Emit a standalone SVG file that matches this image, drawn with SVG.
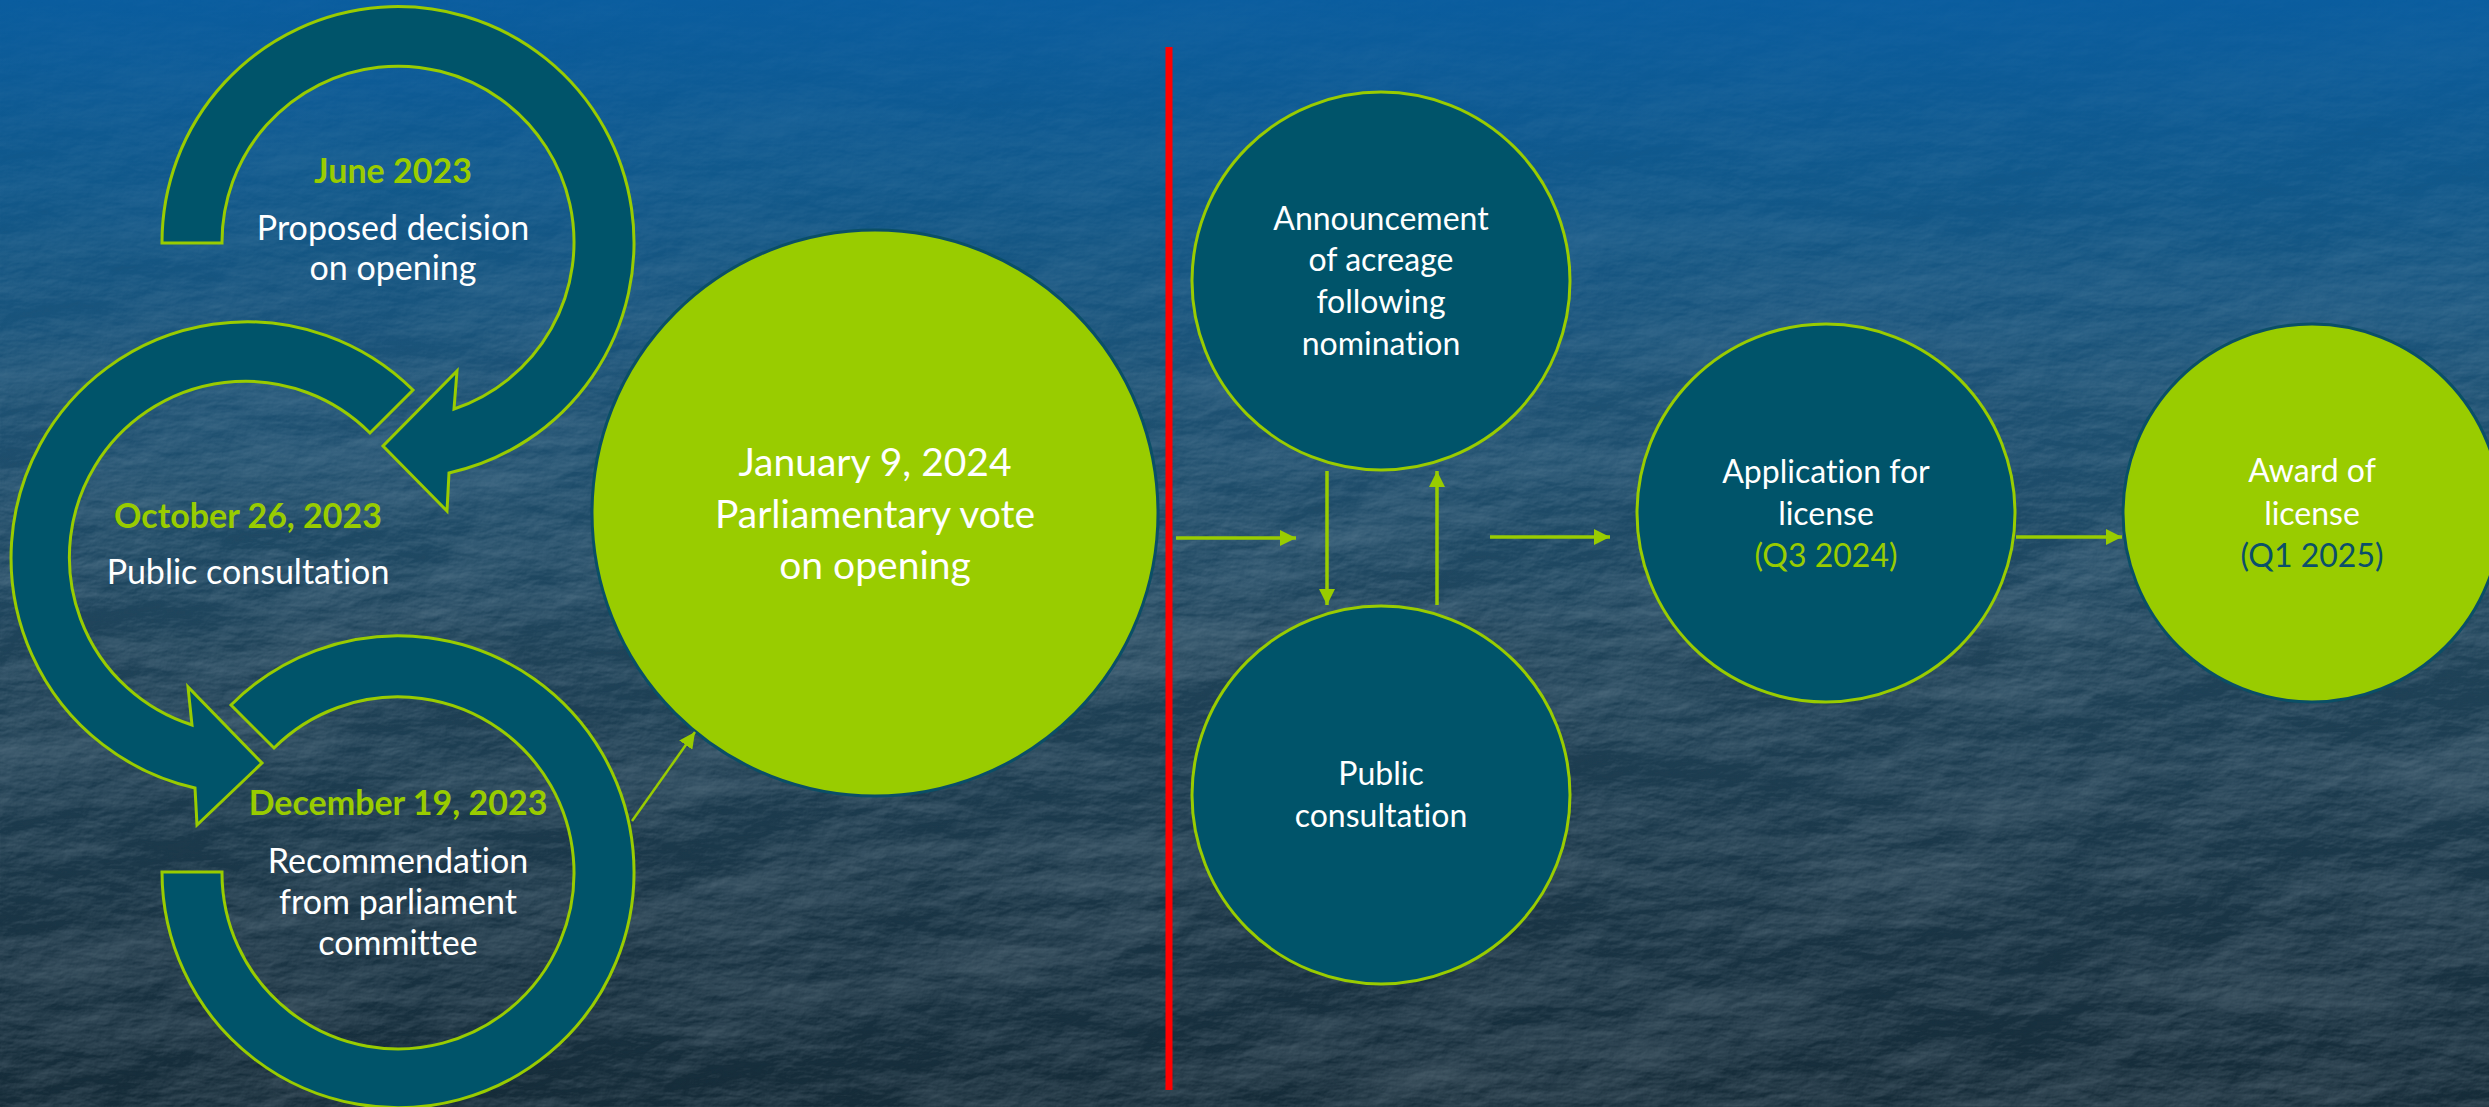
<svg xmlns="http://www.w3.org/2000/svg" width="2489" height="1107" viewBox="0 0 2489 1107">
  <defs>
    <linearGradient id="sky" x1="0" y1="0" x2="0" y2="1">
      <stop offset="0" stop-color="#0a5d9f"/>
      <stop offset="0.16" stop-color="#11598c"/>
      <stop offset="0.36" stop-color="#1e5274"/>
      <stop offset="0.58" stop-color="#20445a"/>
      <stop offset="0.85" stop-color="#1a3444"/>
      <stop offset="1" stop-color="#162c39"/>
    </linearGradient>
    <linearGradient id="fadeGrad" x1="0" y1="0" x2="0" y2="1">
      <stop offset="0" stop-color="#fff" stop-opacity="0.1"/>
      <stop offset="0.25" stop-color="#fff" stop-opacity="0.55"/>
      <stop offset="0.5" stop-color="#fff" stop-opacity="1"/>
      <stop offset="1" stop-color="#fff" stop-opacity="1"/>
    </linearGradient>
    <mask id="fadeTop" maskUnits="userSpaceOnUse" x="0" y="0" width="2489" height="1107">
      <rect width="2489" height="1107" fill="url(#fadeGrad)"/>
    </mask>
    <!-- shaded relief for the terrain backdrop -->
    <filter id="relief" filterUnits="userSpaceOnUse" x="0" y="0" width="2489" height="1107">
      <feTurbulence type="fractalNoise" baseFrequency="0.0028 0.0065" numOctaves="7" seed="9" result="n"/>
      <feDiffuseLighting in="n" surfaceScale="11" diffuseConstant="1" lighting-color="#ffffff" result="lit">
        <feDistantLight azimuth="235" elevation="36"/>
      </feDiffuseLighting>
      <feColorMatrix in="lit" type="matrix" result="hi" values="0 0 0 0 0.70  0 0 0 0 0.80  0 0 0 0 0.90  1.3 0 0 0 -0.62"/>
      <feColorMatrix in="lit" type="matrix" result="lo" values="0 0 0 0 0.02  0 0 0 0 0.05  0 0 0 0 0.08  -1.4 0 0 0 0.66"/>
      <feMerge>
        <feMergeNode in="lo"/>
        <feMergeNode in="hi"/>
      </feMerge>
    </filter>
    <marker id="ah" markerUnits="userSpaceOnUse" markerWidth="16" markerHeight="16" refX="16" refY="8" orient="auto" viewBox="0 0 16 16">
      <path d="M0,0 L16,8 L0,16 Z" fill="#99cc00"/>
    </marker>
    <style>
      .band { fill: #00546a; stroke: #99cc00; stroke-width: 3; stroke-linejoin: miter; }
      .node-teal { fill: #00546a; stroke: #99cc00; stroke-width: 3; }
      .node-green { fill: #99cc00; stroke: #0a4f66; stroke-width: 3; }
      .conn { stroke: #99cc00; stroke-width: 3.5; fill: none; marker-end: url(#ah); }
      text { font-family: Lato, "Open Sans", "Liberation Sans", sans-serif; text-anchor: middle;
             font-variant-ligatures: none; font-feature-settings: "liga" 0, "clig" 0; }
      .date { fill: #99cc00; font-weight: bold; font-size: 34px; }
      .lbl { fill: #ffffff; font-size: 34px; }
      .big { fill: #ffffff; font-size: 39px; }
      .rt { fill: #ffffff; font-size: 32px; }
      .q-green { fill: #99cc00; font-size: 32px; }
      .q-teal { fill: #0a4f6a; font-size: 32px; }
    </style>
  </defs>

  <!-- backdrop -->
  <rect width="2489" height="1107" fill="url(#sky)"/>
  <rect width="2489" height="1107" fill="#000" filter="url(#relief)" mask="url(#fadeTop)" opacity="0.5"/>

  <!-- divider -->
  <line x1="1169" y1="47" x2="1169" y2="1090" stroke="#ff0000" stroke-width="7"/>

  <!-- circular arrow: December 19, 2023 -->
  <g id="step-december">
    <path class="band" d="M162,872 A236,236 0 1 0 231,705 L274,748 A176,176 0 1 1 222,872 Z"/>
    <text class="date" x="398" y="815">December 19, 2023</text>
    <text class="lbl" x="398" y="873">Recommendation</text>
    <text class="lbl" x="398" y="914">from parliament</text>
    <text class="lbl" x="398" y="955">committee</text>
  </g>

  <!-- circular arrow: October 26, 2023 -->
  <g id="step-october">
    <path class="band" d="M413,390 A236,236 0 1 0 195,788 L197,825 L262,763 L188,687 L192,725 A176,176 0 1 1 370,433 Z"/>
    <text class="date" x="248" y="528">October 26, 2023</text>
    <text class="lbl" x="248" y="584">Public consultation</text>
  </g>

  <!-- circular arrow: June 2023 -->
  <g id="step-june">
    <path class="band" d="M162,243 A236,236 0 1 1 449,473 L447,511 L383,446 L457,371 L454,409 A176,176 0 1 0 222,243 Z"/>
    <text class="date" x="393" y="183">June 2023</text>
    <text class="lbl" x="393" y="240">Proposed decision</text>
    <text class="lbl" x="393" y="280">on opening</text>
  </g>

  <!-- parliamentary vote -->
  <g id="vote">
    <circle class="node-green" cx="875" cy="513" r="283"/>
    <text class="big" x="875" y="476">January 9, 2024</text>
    <text class="big" x="875" y="528">Parliamentary vote</text>
    <text class="big" x="875" y="579">on opening</text>
  </g>

  <g id="announcement">
    <circle class="node-teal" cx="1381" cy="281" r="189"/>
    <text class="rt" x="1381" y="230">Announcement</text>
    <text class="rt" x="1381" y="271">of acreage</text>
    <text class="rt" x="1381" y="313">following</text>
    <text class="rt" x="1381" y="355">nomination</text>
  </g>

  <g id="consultation">
    <circle class="node-teal" cx="1381" cy="795" r="189"/>
    <text class="rt" x="1381" y="785">Public</text>
    <text class="rt" x="1381" y="827">consultation</text>
  </g>

  <g id="application">
    <circle class="node-teal" cx="1826" cy="513" r="189"/>
    <text class="rt" x="1826" y="483">Application for</text>
    <text class="rt" x="1826" y="525">license</text>
    <text class="q-green" x="1826" y="567">(Q3 2024)</text>
  </g>

  <g id="award">
    <circle class="node-green" cx="2312" cy="513" r="189"/>
    <text class="rt" x="2312" y="482">Award of</text>
    <text class="rt" x="2312" y="525">license</text>
    <text class="q-teal" x="2312" y="567">(Q1 2025)</text>
  </g>

  <!-- connectors -->
  <g id="connectors">
    <line class="conn" x1="632" y1="821" x2="695" y2="732" style="stroke-width:2.5"/>
    <line class="conn" x1="1176" y1="538" x2="1296" y2="538"/>
    <line class="conn" x1="1327" y1="471" x2="1327" y2="605"/>
    <line class="conn" x1="1437" y1="605" x2="1437" y2="471"/>
    <line class="conn" x1="1490" y1="537" x2="1610" y2="537"/>
    <line class="conn" x1="2016" y1="537" x2="2122" y2="537"/>
  </g>
</svg>
